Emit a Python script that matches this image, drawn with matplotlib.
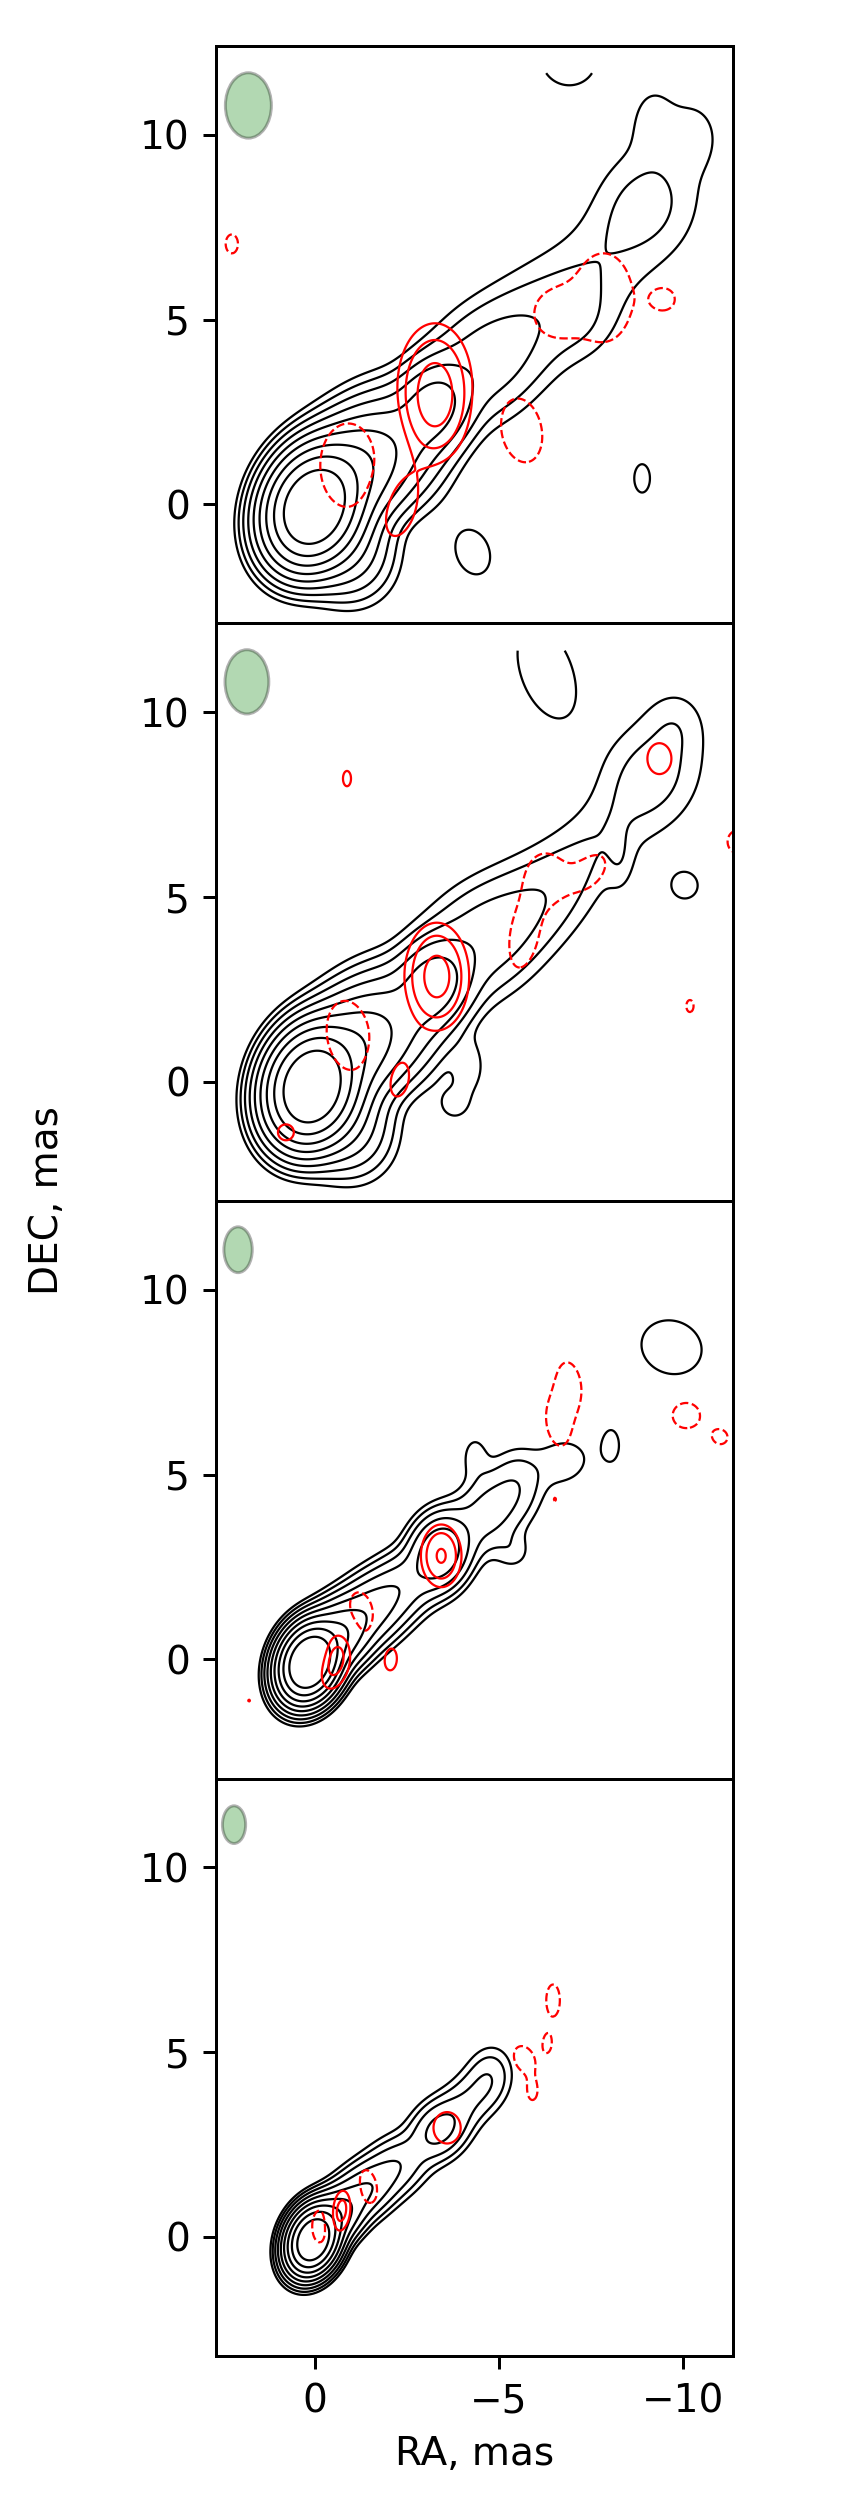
import numpy as np
import matplotlib
matplotlib.use("Agg")
import matplotlib.pyplot as plt
from matplotlib.patches import Ellipse

# model components: (RA, DEC, peak, FWHM major, FWHM minor, PA deg)
# black contours (total intensity), one list per panel
I1 = [(0.05, -0.1, 600, 1.75, 1.35, -20), (-0.6, -0.9, 20, 2.0, 1.6, 30),
      (-0.9, 0.8, 60, 1.9, 1.6, -40), (-1.9, 1.5, 22, 2.2, 1.9, -45),
      (-3.25, 2.65, 20, 1.6, 1.3, -20), (-4.5, 3.7, 5, 2.4, 2.0, -45),
      (-5.6, 4.7, 2.6, 2.6, 2.0, -50), (-6.9, 5.6, 1.3, 2.6, 2.4, -20),
      (-7.2, 5.0, 0.8, 1.6, 1.4, 0), (-7.9, 6.9, 0.7, 2.2, 1.8, -40),
      (-9.2, 8.2, 1.0, 4.6, 3.0, -15), (-8.95, 8.1, 1.6, 2.0, 1.8, -30),
      (-9.2, 10.4, 1.0, 1.7, 1.0, 0), (-10.3, 10.0, 1.0, 1.6, 1.2, 0),
      (-4.3, -1.3, 1.3, 2.0, 1.45, 20),
      (-8.9, 0.7, 1.25, 1.35, 0.75, 0), (-6.9, 12.1, 1.8, 1.6, 1.6, 0)]
I2 = [(0.1, -0.15, 600, 1.7, 1.3, -15), (-0.6, -0.9, 18, 2.0, 1.6, 30),
      (-0.9, 0.8, 50, 1.9, 1.6, -40), (-1.9, 1.5, 20, 2.2, 1.9, -45),
      (-3.25, 2.65, 22, 1.6, 1.3, -20), (-4.4, 3.7, 5, 2.4, 2.0, -45),
      (-5.6, 4.6, 3.0, 2.6, 1.9, -50), (-6.8, 5.6, 1.6, 2.6, 1.7, -40),
      (-7.9, 6.9, 0.8, 2.4, 1.5, -40), (-9.3, 8.4, 1.0, 4.0, 2.6, -20),
      (-9.1, 8.3, 1.7, 2.1, 1.8, -30), (-9.8, 9.7, 0.9, 1.4, 1.2, 0),
      (-8.3, 6.0, 1.0, 1.4, 0.6, 0),
      (-4.2, 0.4, 1.6, 1.2, 0.7, 0), (-10.07, 5.3, 1.3, 1.0, 1.0, 0),
      (-3.8, -0.62, 1.3, 0.9, 0.9, 0), (-6.3, 11.1, 1.8, 2.8, 1.5, 20)]
I3 = [(0.15, -0.1, 700, 1.15, 0.85, -20), (-0.6, 0.6, 60, 1.3, 1.0, -40),
      (-1.5, 1.3, 20, 1.5, 1.1, -45), (-2.4, 2.0, 10, 1.5, 1.1, -45),
      (-3.4, 2.9, 30, 1.3, 1.0, -15), (-4.5, 3.8, 4, 1.6, 1.2, -30),
      (-5.1, 4.3, 2.6, 1.6, 1.2, -10), (-5.6, 4.8, 2.0, 1.4, 1.0, 0),
      (-6.75, 5.35, 1.7, 1.3, 1.1, -70), (-4.35, 5.5, 1.4, 1.0, 0.6, 0),
      (-8.06, 5.8, 1.3, 1.25, 0.65, 0),
      (-9.7, 8.45, 1.8, 1.8, 1.55, 70), (-5.4, 2.9, 1.3, 0.8, 0.8, 0)]
I4 = [(0.05, -0.1, 600, 1.0, 0.72, -20), (-0.5, 0.5, 50, 1.1, 0.8, -45),
      (-1.3, 1.2, 15, 1.3, 0.9, -50), (-2.2, 1.9, 7, 1.4, 1.0, -50),
      (-3.4, 2.9, 10, 1.2, 0.95, -40), (-4.2, 3.7, 3.5, 1.3, 0.95, -40),
      (-4.75, 4.35, 3.0, 1.2, 0.9, -10)]

# red contours (signed), one list per panel
R1 = [(-3.27, 2.85, 5.0, 2.2, 1.25, 0), (-3.27, 3.7, 1.1, 2.4, 1.6, 0),
      (-2.3, -0.08, 1.7, 2.0, 1.05, -15), (-0.92, 1.05, -1.7, 2.6, 1.75, 0),
      (-5.62, 2.0, -1.7, 2.0, 1.25, 12), (-7.85, 5.6, -1.6, 2.9, 1.9, 0),
      (-6.45, 5.15, -1.4, 1.3, 1.2, 0), (-9.54, 5.55, -1.15, 0.85, 0.85, 0),
      (2.25, 7.05, -1.2, 1.0, 0.65, 0)]
R2 = [(-3.32, 2.85, 5.1, 1.9, 1.15, 0),
      (-9.37, 8.75, 1.3, 1.36, 1.06, 0), (-2.27, 0.07, 1.3, 1.75, 0.98, -10),
      (0.78, -1.37, 1.15, 0.96, 0.96, 0), (-0.88, 8.21, 1.1, 1.12, 0.59, 0),
      (-0.92, 1.25, -1.6, 2.3, 1.41, 9), (-5.7, 4.0, -1.5, 2.4, 1.0, -10),
      (-6.3, 5.6, -1.4, 1.4, 1.1, 0), (-7.5, 5.7, -1.3, 1.6, 1.0, -40),
      (-10.2, 2.05, -1.1, 0.88, 0.53, 0), (-11.5, 6.5, -1.3, 1.0, 0.9, 0)]
R3 = [(-3.44, 2.8, 4.3, 1.17, 0.76, 0),
      (-0.58, -0.02, 2.65, 1.35, 0.7, -15), (-2.03, 0.05, 1.3, 1.34, 0.77, 0),
      (1.78, -1.12, 1.02, 0.3, 0.3, 0), (-1.27, 1.2, -1.4, 1.8, 1.0, 10),
      (-0.08, 0.43, -1.2, 1.18, 0.43, 0), (-6.6, 6.35, -1.3, 1.8, 0.9, 10),
      (-6.95, 7.5, -1.3, 1.63, 0.82, 10), (-10.1, 6.6, -1.25, 1.2, 1.3, 0),
      (-11.05, 6.0, -1.15, 0.6, 0.6, 0), (-6.53, 4.33, -1.03, 0.3, 0.2, 0)]
R4 = [(-3.6, 2.95, 1.4, 1.22, 1.06, 0), (-0.72, 0.7, 2.7, 1.0, 0.45, -10),
      (-0.15, 0.28, -1.4, 1.28, 0.62, 0), (-1.45, 1.36, -1.3, 1.46, 0.77, 10),
      (-5.7, 4.81, -1.3, 1.2, 0.85, 25), (-6.33, 5.23, -1.1, 0.6, 0.3, 0),
      (-6.48, 6.4, -1.3, 1.4, 0.6, 0), (-5.92, 3.87, -1.05, 0.72, 0.42, 0)]

# restoring beams: centre x, centre y, width, height
BEAM_X = [1.80, 1.84, 2.08, 2.19]
BEAM_Y = [10.80, 10.83, 11.09, 11.16]
BEAM_W = [1.25, 1.19, 0.77, 0.63]
BEAM_H = [1.77, 1.74, 1.24, 1.02]

I_LEVELS = 2.0 ** np.arange(9)
R_LEVELS = [-1, 1, 2, 4]

# map grid (map ends at DEC = 11.7)
xg = np.arange(-12.0, 3.5, 0.025)
yg = np.arange(-4.0, 11.7, 0.025)
X, Y = np.meshgrid(xg, yg)


def model(comps):
    z = np.zeros_like(X)
    for x0, y0, amp, bmaj, bmin, pa in comps:
        t = np.deg2rad(pa)
        dx, dy = X - x0, Y - y0
        u = dx * np.sin(t) + dy * np.cos(t)
        v = dx * np.cos(t) - dy * np.sin(t)
        z += amp * np.exp(-4 * np.log(2) * ((u / bmaj) ** 2 + (v / bmin) ** 2))
    return z


plt.rcParams['font.size'] = 10.4
fig = plt.figure(figsize=(841 / 270, 2516 / 270), dpi=270)

left, width = 216 / 841, 517 / 841
top, bottom = 1 - 46 / 2516, 1 - 2356 / 2516
h = (top - bottom) / 4

for i, (icomp, rcomp) in enumerate(zip([I1, I2, I3, I4], [R1, R2, R3, R4])):
    ax = fig.add_axes([left, top - (i + 1) * h, width, h])
    ax.contour(X, Y, model(icomp), levels=I_LEVELS, colors='black', linewidths=0.6)
    ax.contour(X, Y, model(rcomp), levels=R_LEVELS, colors='red', linewidths=0.6)
    ax.add_patch(Ellipse((BEAM_X[i], BEAM_Y[i]), BEAM_W[i], BEAM_H[i],
                         facecolor='green', edgecolor='black', alpha=0.3, lw=0.8))
    ax.set_xlim(2.68, -11.37)
    ax.set_ylim(-3.23, 12.41)
    ax.set_xticks([0, -5, -10])
    ax.set_yticks([0, 5, 10])
    if i < 3:
        ax.tick_params(bottom=False, labelbottom=False)
    else:
        ax.set_xlabel('RA, mas')

fig.text(47 / 841, (top + bottom) / 2, 'DEC, mas', rotation=90, ha='center', va='center')
fig.savefig('out.png', dpi=270)
